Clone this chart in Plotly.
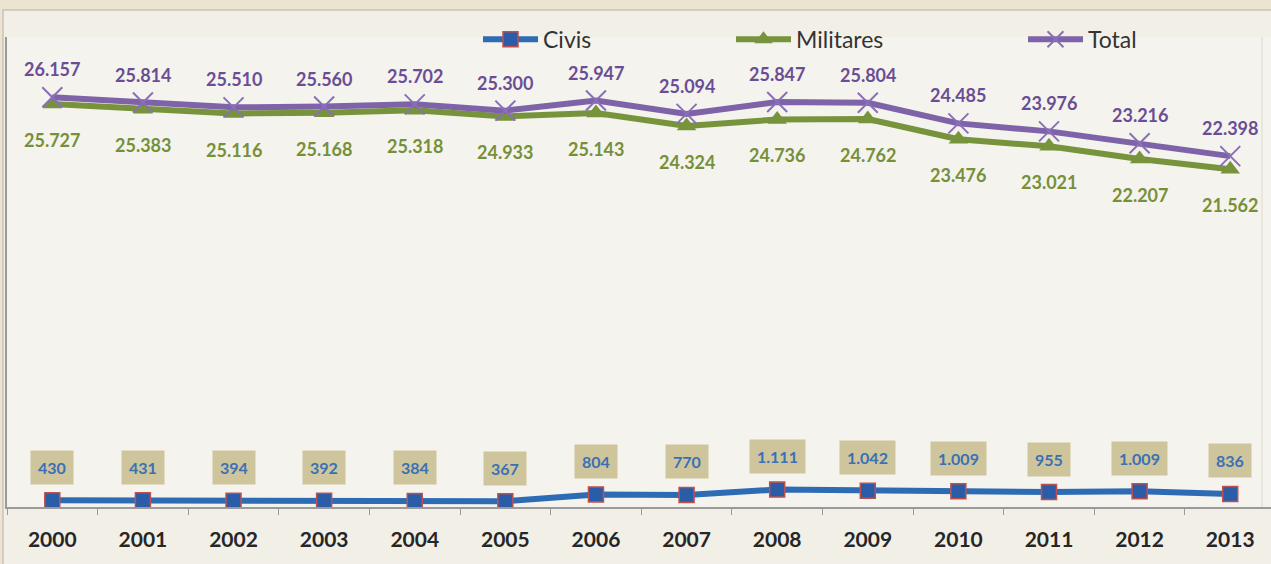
import plotly.graph_objects as go

years = [str(y) for y in range(2000, 2014)]
civis = [430, 431, 394, 392, 384, 367, 804, 770, 1111, 1042, 1009, 955, 1009, 836]
militares = [25727, 25383, 25116, 25168, 25318, 24933, 25143, 24324, 24736, 24762,
             23476, 23021, 22207, 21562]
total = [26157, 25814, 25510, 25560, 25702, 25300, 25947, 25094, 25847, 25804,
         24485, 23976, 23216, 22398]

FONT = "Lato"
C_BLUE = "#2e6bb5"
C_GREEN = "#77933c"
C_PURPLE = "#7f63a8"


def fmt(v):
    return f"{v:,}".replace(",", ".")


fig = go.Figure()

fig.add_trace(go.Scatter(
    x=years, y=civis, name="Civis", mode="lines+markers",
    line=dict(color=C_BLUE, width=6),
    marker=dict(symbol="square", size=15, color="#2b5ca8",
                line=dict(color="#c0504d", width=1.5)),
    legend="legend",
))
fig.add_trace(go.Scatter(
    x=years, y=militares, name="Militares", mode="lines+markers",
    line=dict(color=C_GREEN, width=6),
    marker=dict(symbol="triangle-up", size=17, color=C_GREEN),
    legend="legend2",
))
fig.add_trace(go.Scatter(
    x=years, y=total, name="Total", mode="lines+markers",
    line=dict(color=C_PURPLE, width=6),
    marker=dict(symbol="x-thin", size=20, color="#9a80c4",
                line=dict(color="#8a6fb8", width=2)),
    legend="legend3",
))

annotations = []
for i, yr in enumerate(years):
    annotations.append(dict(
        x=i, y=total[i], text=fmt(total[i]), showarrow=False, yshift=28,
        font=dict(family=FONT, size=18, color="#6a4e95", weight="bold"),
    ))
    annotations.append(dict(
        x=i, y=militares[i], text=fmt(militares[i]), showarrow=False, yshift=-36,
        font=dict(family=FONT, size=18, color="#76903a", weight="bold"),
    ))
    annotations.append(dict(
        x=i, y=civis[i], text=fmt(civis[i]), showarrow=False, yshift=33,
        font=dict(family=FONT, size=16, color="#3a70b5", weight="bold"),
        bgcolor="#cfc59c", borderpad=7,
    ))

shapes = [
    # chart area
    dict(type="rect", xref="paper", yref="paper",
         x0=-4 / 1264, x1=1.01, y0=-0.2, y1=1 + 27 / 470,
         fillcolor="#f2efe7", line=dict(color="#c9c4b8", width=1.5), layer="below"),
    # plot area
    dict(type="rect", xref="x domain", yref="y domain",
         x0=0, x1=1, y0=0, y1=1,
         fillcolor="#f5f3ee", line=dict(width=0), layer="below"),
    # faint plot area right border
    dict(type="line", xref="paper", yref="y domain",
         x0=(1262 - 7) / 1264, x1=(1262 - 7) / 1264, y0=0, y1=1,
         line=dict(color="#e4e2d8", width=1.5), layer="below"),
]

leg_common = dict(orientation="h", yanchor="middle", xanchor="left",
                  bgcolor="rgba(0,0,0,0)", itemwidth=55,
                  font=dict(family=FONT, size=23, color="#333333"))

fig.update_layout(
    width=1271, height=564,
    margin=dict(l=7, r=0, t=37, b=57),
    paper_bgcolor="#ede3d1",
    plot_bgcolor="rgba(0,0,0,0)",
    showlegend=True,
    legend=dict(x=(478 - 7) / 1264, y=0.995, **leg_common),
    legend2=dict(x=(731 - 7) / 1264, y=0.995, **leg_common),
    legend3=dict(x=(1023 - 7) / 1264, y=0.995, **leg_common),
    xaxis=dict(
        type="category", range=[-0.5, 13.45],
        showline=True, linecolor="#9a9a9a", linewidth=1.5,
        ticks="outside", tickson="boundaries", ticklen=6, tickcolor="#9a9a9a",
        showgrid=False, zeroline=False,
        tickfont=dict(family=FONT, size=21, color="#262626", weight="bold"),
        ticklabelstandoff=13,
    ),
    yaxis=dict(
        range=[0, 30000], showticklabels=False, showgrid=False, zeroline=False,
        showline=True, linecolor="#9a9a9a", linewidth=1.5,
    ),
    annotations=annotations,
    shapes=shapes,
)

fig.write_html("out.html", post_script="document.body.style.margin='0';",
               config={"displayModeBar": False})
